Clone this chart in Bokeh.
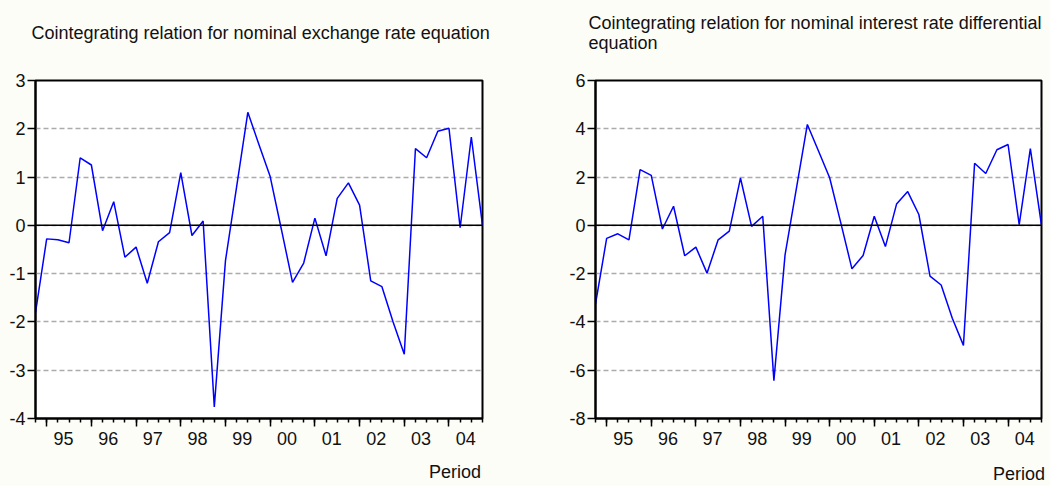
from bokeh.plotting import figure
from bokeh.layouts import row
from bokeh.models import (Range1d, FixedTicker, LinearAxis, Span, Title)
from bokeh.embed import file_html
from bokeh.resources import INLINE

# quarterly index: 0 = 1994Q4 ... 40 = 2004Q4
quarters = list(range(41))
year_labels = ["95", "96", "97", "98", "99", "00", "01", "02", "03", "04"]
year_centers = [2.5 + 4 * k for k in range(10)]
year_starts = [1 + 4 * k for k in range(10)]

exch = [-1.81, -0.28, -0.30, -0.36, 1.40, 1.25, -0.11, 0.49, -0.66, -0.45,
        -1.20, -0.34, -0.15, 1.09, -0.21, 0.09, -3.76, -0.73, 0.80, 2.34,
        1.67, 1.01, -0.08, -1.18, -0.78, 0.15, -0.63, 0.56, 0.88, 0.42,
        -1.15, -1.27, -2.00, -2.67, 1.59, 1.40, 1.95, 2.01, -0.05, 1.83, 0.0]

irate = [-3.26, -0.54, -0.35, -0.60, 2.31, 2.07, -0.15, 0.79, -1.26, -0.90,
         -1.98, -0.60, -0.24, 1.96, -0.04, 0.38, -6.43, -1.22, 1.48, 4.18,
         3.08, 1.97, 0.10, -1.80, -1.25, 0.38, -0.88, 0.88, 1.40, 0.45,
         -2.10, -2.47, -3.85, -4.97, 2.57, 2.15, 3.13, 3.35, 0.03, 3.18, 0.0]

FONT = "Liberation Sans"
BG = "#FDFDF8"
NB = "\u00a0"


def make_chart(values, ymin, ymax, ystep, title, frame_w, left, right, title_dx, title_standoff,
               period_standoff, period_pad):
    p = figure(frame_width=frame_w, frame_height=338, output_backend="svg", toolbar_location=None,
               x_range=Range1d(0, 40), y_range=Range1d(ymin, ymax),
               min_border_left=left, min_border_right=right,
               min_border_top=80, min_border_bottom=0,
               background_fill_color="white", border_fill_color=BG)
    p.outline_line_color = "black"
    p.outline_line_width = 2

    t = p.title
    t.text = title + "\n" + NB
    t.align = "left"
    t.offset = title_dx
    t.standoff = title_standoff
    t.text_font = FONT
    t.text_font_size = "18px"
    t.text_font_style = "normal"
    t.text_color = "#111111"

    # y axis
    yt = list(range(ymin, ymax + 1, ystep))
    p.yaxis.ticker = FixedTicker(ticks=yt)
    p.yaxis.major_label_overrides = {v: str(v) for v in yt}
    p.yaxis.axis_line_width = 2
    p.yaxis.major_tick_out = 8
    p.yaxis.major_tick_in = 0
    p.yaxis.major_tick_line_width = 1.5
    p.yaxis.minor_tick_line_color = None
    p.yaxis.major_label_text_font = FONT
    p.yaxis.major_label_text_font_size = "18px"
    p.yaxis.major_label_text_color = "#111111"
    p.yaxis.major_label_standoff = 2

    # x axis: ticks only
    p.xaxis.ticker = FixedTicker(ticks=year_starts, minor_ticks=quarters)
    p.xaxis.major_label_overrides = {t_: "" for t_ in year_starts}
    p.xaxis.axis_line_width = 2
    p.xaxis.major_tick_out = 8
    p.xaxis.major_tick_in = 0
    p.xaxis.major_tick_line_width = 1.5
    p.xaxis.minor_tick_out = 4
    p.xaxis.minor_tick_in = 0
    p.xaxis.minor_tick_line_width = 1.5
    p.xaxis.major_label_standoff = 0
    p.xaxis.major_label_text_font_size = "1px"

    # x axis: year labels, with the "Period" axis label
    lab = LinearAxis(ticker=FixedTicker(ticks=year_centers, minor_ticks=[]),
                     major_label_overrides={c: l for c, l in zip(year_centers, year_labels)})
    lab.axis_line_color = None
    lab.major_tick_line_color = None
    lab.minor_tick_line_color = None
    lab.major_label_text_font = FONT
    lab.major_label_text_font_size = "18px"
    lab.major_label_text_color = "#111111"
    lab.major_label_standoff = -1
    if "axis_label_align" in lab.properties():
        lab.axis_label = "Period" + NB * period_pad
        lab.axis_label_align = "end"
        lab.axis_label_standoff = period_standoff
        lab.axis_label_text_font = FONT
        lab.axis_label_text_font_size = "18px"
        lab.axis_label_text_font_style = "normal"
        lab.axis_label_text_color = "#111111"
        p.add_layout(lab, "below")
    else:
        p.add_layout(lab, "below")
        p.add_layout(Title(text="Period", align="right", text_font=FONT, text_font_size="18px",
                           text_font_style="normal", text_color="#111111", standoff=12),
                     "below")

    p.xgrid.grid_line_color = None
    p.ygrid.ticker = FixedTicker(ticks=yt)
    p.ygrid.grid_line_color = "#ABABAB"
    p.ygrid.grid_line_dash = "5 3"
    p.ygrid.grid_line_width = 1.5

    p.add_layout(Span(location=0, dimension="width", line_color="black", line_width=1.5))

    p.line(quarters, values, line_color="#0000FF", line_width=1.5)
    return p


p1 = make_chart(exch, -4, 3, 1,
                "Cointegrating relation for nominal exchange rate equation",
                447, 35, 43, -4, 36, 14, 11)
p2 = make_chart(irate, -8, 6, 2,
                "Cointegrating relation for nominal interest rate differential\nequation",
                446, 70, 9, -7, 16, 16, 9)

layout = row(p1, p2, spacing=0)
layout.background = BG
open("out.html", "w").write(file_html(layout, INLINE))
